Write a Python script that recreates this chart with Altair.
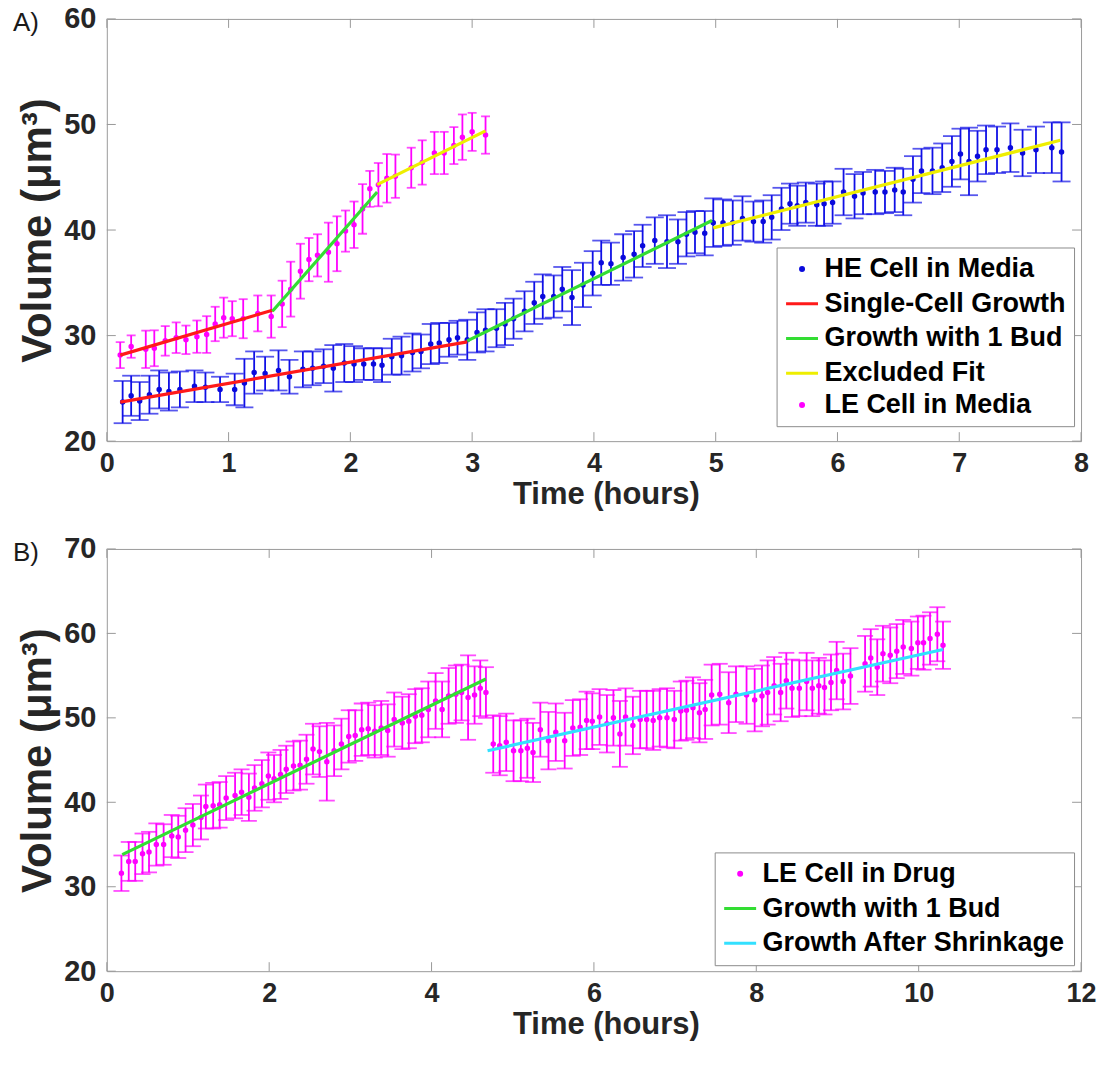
import altair as alt
import pandas as pd

FONT = "Liberation Sans"
AXIS_GRAY = "#9a9a9a"
TXT = "#262626"
W, H = 976, 423

# ---------------- Panel A ----------------
he_t = [0.13, 0.20, 0.27, 0.35, 0.43, 0.51, 0.60, 0.72, 0.81, 0.93,
        1.05, 1.13, 1.21, 1.30, 1.41, 1.50, 1.61, 1.69, 1.78, 1.86,
        1.95, 2.03, 2.11, 2.19, 2.26, 2.34, 2.42, 2.51, 2.58, 2.66,
        2.73, 2.81, 2.88, 2.96, 3.04, 3.11, 3.20, 3.27, 3.34, 3.43,
        3.51, 3.58, 3.67, 3.74, 3.82, 3.91, 3.99, 4.06, 4.14, 4.24,
        4.33, 4.40, 4.50, 4.60, 4.69, 4.76, 4.83, 4.91, 4.98, 5.06,
        5.14, 5.22, 5.31, 5.39, 5.46, 5.54, 5.61, 5.67, 5.74, 5.83,
        5.89, 5.96, 6.05, 6.14, 6.21, 6.31, 6.39, 6.47, 6.54, 6.62,
        6.69, 6.78, 6.86, 6.94, 7.01, 7.08, 7.15, 7.22, 7.31, 7.42,
        7.52, 7.63, 7.76, 7.84]
he_v = [23.7, 24.3, 23.8, 24.4, 24.9, 24.7, 24.9, 25.2, 25.1, 24.9,
        24.9, 25.5, 26.5, 26.4, 26.7, 26.1, 26.8, 26.9, 27.1, 26.9,
        27.4, 27.3, 27.3, 27.3, 27.2, 28.0, 28.1, 28.4, 28.5, 29.2,
        29.3, 29.6, 29.8, 29.6, 30.3, 30.5, 30.7, 31.1, 31.6, 32.3,
        33.1, 33.7, 33.7, 34.4, 33.6, 34.8, 35.9, 36.9, 36.8, 37.4,
        37.7, 38.5, 39.0, 38.9, 38.9, 39.6, 39.8, 39.7, 40.7, 40.7,
        40.7, 41.1, 40.8, 40.8, 41.2, 42.0, 42.5, 42.3, 42.6, 42.4,
        42.5, 42.6, 43.6, 43.2, 43.5, 43.6, 43.6, 43.8, 43.6, 44.8,
        45.6, 45.6, 45.9, 46.5, 47.2, 46.5, 47.0, 47.6, 47.6, 47.8,
        47.3, 47.6, 47.8, 47.4]
he_e = [2.0, 1.9, 1.8, 1.8, 1.8, 1.8, 1.7, 1.5, 1.4, 1.2,
        1.5, 2.3, 2.0, 1.6, 1.9, 1.6, 1.7, 1.6, 1.6, 2.2,
        1.8, 1.7, 1.5, 1.5, 1.6, 1.7, 1.8, 1.8, 1.6, 1.9,
        1.9, 1.6, 1.6, 1.9, 1.9, 2.0, 1.8, 2.0, 1.9, 1.9,
        2.0, 2.1, 2.0, 2.1, 2.6, 2.1, 2.1, 2.1, 2.0, 2.2,
        2.2, 2.0, 2.2, 2.5, 2.1, 2.1, 2.0, 2.1, 2.3, 2.2,
        2.1, 2.1, 1.9, 2.0, 2.1, 2.0, 1.9, 1.9, 1.9, 2.0,
        2.1, 2.0, 2.2, 2.1, 2.0, 2.1, 2.0, 2.1, 2.2, 2.2,
        2.1, 2.2, 2.3, 2.4, 2.4, 3.2, 2.4, 2.3, 2.2, 2.3,
        2.2, 2.2, 2.4, 2.8]

lem_t = [0.11, 0.20, 0.32, 0.39, 0.48, 0.57, 0.65, 0.74, 0.82, 0.89,
         0.96, 1.03, 1.12, 1.24, 1.35, 1.44, 1.51, 1.59, 1.66, 1.73,
         1.82, 1.89, 1.96, 2.03, 2.10, 2.16, 2.23, 2.30, 2.37, 2.50,
         2.59, 2.69, 2.77, 2.85, 2.92, 3.00, 3.11]
lem_v = [28.15, 28.96, 28.7, 28.8, 29.5, 29.8, 29.6, 29.9, 30.1, 31.1,
         31.7, 31.6, 31.6, 32.1, 31.8, 33.0, 34.4, 36.1, 37.2, 37.6,
         37.9, 38.7, 39.9, 40.5, 42.0, 43.9, 44.3, 44.9, 45.1, 45.9,
         46.4, 47.3, 47.3, 48.0, 48.8, 49.3, 49.0]
lem_e = [1.23, 1.06, 1.77, 1.7, 1.4, 1.45, 1.35, 1.53, 1.74, 1.63,
         1.9, 1.66, 1.85, 1.7, 2.0, 2.2, 2.6, 2.6, 2.05, 2.0,
         2.8, 2.6, 1.95, 2.2, 2.35, 1.7, 2.05, 2.3, 2.05, 1.9,
         2.1, 2.0, 2.0, 1.75, 2.15, 1.8, 1.77]

fitA_seg = ["he1", "he1", "he2", "he2", "he3", "he3", "le1", "le1", "le2", "le2", "le3", "le3"]
fitA_series = ["Single-Cell Growth", "Single-Cell Growth", "Growth with 1 Bud", "Growth with 1 Bud",
               "Excluded Fit", "Excluded Fit", "Single-Cell Growth", "Single-Cell Growth",
               "Growth with 1 Bud", "Growth with 1 Bud", "Excluded Fit", "Excluded Fit"]
fitA_t = [0.11, 2.96, 2.96, 4.97, 4.98, 7.83, 0.11, 1.36, 1.36, 2.22, 2.22, 3.11]
fitA_v = [23.7, 29.4, 29.5, 40.9, 40.2, 48.5, 28.15, 32.4, 32.3, 43.6, 44.3, 49.4]

legendA = ["HE Cell in Media", "Single-Cell Growth", "Growth with 1 Bud", "Excluded Fit", "LE Cell in Media"]
colorsA = ["#0a0adc", "#ff1a1a", "#33dd33", "#eeee00", "#ff00ff"]
shapesA = ["circle", "stroke", "stroke", "stroke", "circle"]
sizesA = [9, 1024, 1024, 1024, 9]
xticksA = [0, 1, 2, 3, 4, 5, 6, 7, 8]
yticksA = [20, 30, 40, 50, 60]

# ---------------- Panel B ----------------
dr_t = [0.18, 0.27, 0.35, 0.44, 0.52, 0.61, 0.70, 0.80, 0.88, 0.97,
        1.06, 1.16, 1.22, 1.31, 1.39, 1.47, 1.58, 1.66, 1.75, 1.82,
        1.91, 1.99, 2.06, 2.14, 2.21, 2.30, 2.38, 2.46, 2.54, 2.62,
        2.71, 2.80, 2.89, 2.98, 3.06, 3.14, 3.22, 3.30, 3.38, 3.46,
        3.54, 3.64, 3.72, 3.80, 3.88, 3.96, 4.05, 4.13, 4.21, 4.30,
        4.37, 4.45, 4.53, 4.60, 4.67, 4.76, 4.84, 4.92, 5.01, 5.10,
        5.18, 5.25, 5.34, 5.44, 5.53, 5.64, 5.74, 5.83, 5.91, 5.98,
        6.07, 6.16, 6.24, 6.32, 6.39, 6.48, 6.57, 6.65, 6.73, 6.81,
        6.90, 6.99, 7.07, 7.14, 7.22, 7.30, 7.37, 7.45, 7.55, 7.66,
        7.75, 7.88, 7.98, 8.07, 8.14, 8.22, 8.30, 8.37, 8.44, 8.53,
        8.62, 8.69, 8.77, 8.84, 8.92, 8.99, 9.07, 9.16, 9.34, 9.41,
        9.49, 9.56, 9.65, 9.73, 9.81, 9.91, 9.99, 10.06, 10.14, 10.23,
        10.30]
dr_v = [31.6, 33.0, 33.0, 33.9, 34.1, 35.0, 35.0, 36.0, 35.9, 36.7,
        37.3, 38.2, 39.5, 39.6, 39.7, 40.5, 40.8, 41.2, 40.6, 41.7,
        42.2, 43.1, 42.8, 43.3, 43.9, 44.3, 44.4, 45.1, 46.3, 46.0,
        44.8, 46.1, 46.9, 47.8, 47.9, 48.6, 48.7, 48.4, 48.8, 48.5,
        49.8, 49.4, 49.6, 50.2, 50.3, 51.0, 52.0, 51.0, 52.6, 52.8,
        53.0, 52.4, 52.7, 53.5, 53.0, 46.9, 46.7, 47.1, 46.1, 46.1,
        46.4, 45.9, 48.6, 47.3, 48.3, 47.3, 48.8, 48.9, 49.7, 49.6,
        50.1, 49.3, 50.0, 48.1, 50.1, 49.1, 49.8, 49.8, 49.7, 50.0,
        50.0, 49.8, 50.8, 50.9, 51.2, 50.6, 51.0, 52.7, 52.8, 51.8,
        52.8, 52.7, 52.1, 52.6, 53.0, 53.8, 53.0, 54.4, 53.5, 53.5,
        54.3, 53.5, 53.8, 53.6, 54.2, 55.6, 54.3, 54.95, 56.4, 57.1,
        56.0, 57.6, 57.4, 57.9, 58.4, 58.2, 58.9, 58.9, 59.4, 59.9,
        58.6]
dr_e = [2.1, 2.3, 2.3, 2.4, 2.4, 2.5, 2.4, 2.5, 2.5, 2.6,
        2.5, 2.6, 2.6, 2.7, 2.7, 2.6, 2.7, 2.7, 2.8, 2.7,
        2.8, 2.8, 2.8, 2.9, 2.8, 2.9, 2.9, 2.9, 3.0, 3.0,
        4.6, 3.0, 3.0, 3.1, 3.0, 3.1, 3.1, 3.1, 3.2, 3.1,
        3.2, 3.1, 3.2, 3.2, 3.2, 3.3, 3.3, 3.3, 3.3, 3.4,
        3.3, 5.0, 3.4, 3.3, 3.0, 3.4, 3.5, 3.4, 3.6, 3.6,
        3.5, 3.5, 3.2, 3.4, 3.4, 3.3, 3.3, 3.3, 3.4, 3.3,
        3.3, 3.4, 3.3, 3.9, 3.4, 3.4, 3.4, 3.4, 3.5, 3.4,
        3.5, 3.4, 3.5, 3.5, 3.6, 3.5, 3.5, 3.6, 3.6, 3.6,
        3.3, 3.4, 3.7, 3.6, 3.8, 3.4, 3.4, 3.3, 3.4, 3.3,
        3.4, 3.3, 3.3, 3.2, 3.3, 3.4, 3.3, 3.3, 3.3, 3.4,
        3.3, 3.3, 3.3, 3.2, 3.2, 3.2, 3.1, 3.2, 3.1, 3.2,
        2.8]

fitB_seg = ["b1", "b1", "b2", "b2"]
fitB_series = ["Growth with 1 Bud", "Growth with 1 Bud", "Growth After Shrinkage", "Growth After Shrinkage"]
fitB_t = [0.19, 4.67, 4.69, 10.30]
fitB_v = [33.8, 54.6, 46.1, 58.1]

legendB = ["LE Cell in Drug", "Growth with 1 Bud", "Growth After Shrinkage"]
colorsB = ["#ff00ff", "#33dd33", "#33e0ff"]
shapesB = ["circle", "stroke", "stroke"]
sizesB = [9, 1024, 1024]
xticksB = [0, 2, 4, 6, 8, 10, 12]
yticksB = [20, 30, 40, 50, 60, 70]


def build_panel(series_list, fit_df, xdom, xticks, ydom, yticks, dom, colors, shapes, sizes,
                label, legx, legy):
    xs = alt.Scale(domain=xdom, nice=False, zero=False)
    ys = alt.Scale(domain=ydom, nice=False, zero=False)
    xax = alt.Axis(values=xticks, title="Time (hours)", format="d", titleX=W / 2 + 12)
    yax = alt.Axis(values=yticks, title="Volume (μm³)", format="d")

    def X(f):
        return alt.X(f"{f}:Q", scale=xs, axis=xax)

    def Y(f):
        return alt.Y(f"{f}:Q", scale=ys, axis=yax)

    layers = []
    frames = []
    for name, t, v, e, color, cap in series_list:
        df = pd.DataFrame({"t": t, "v": v, "e": e})
        df["lo"] = df["v"] - df["e"]
        df["hi"] = df["v"] + df["e"]
        df["series"] = name
        frames.append(df)
        base = alt.Chart(df)
        layers.append(base.mark_rule(color=color, strokeWidth=1.8).encode(
            x=X("t"), y=Y("lo"), y2=alt.Y2("hi")))
        layers.append(base.mark_tick(color=color, orient="horizontal", size=cap, thickness=1.8).encode(
            x=X("t"), y=Y("lo")))
        layers.append(base.mark_tick(color=color, orient="horizontal", size=cap, thickness=1.8).encode(
            x=X("t"), y=Y("hi")))

    pts = pd.concat(frames, ignore_index=True)
    leg = alt.Legend(title=None, orient="none", legendX=legx, legendY=legy,
                     labelFont=FONT, labelFontSize=27, labelFontWeight="bold", labelColor="#000000",
                     strokeColor="#8c8c8c", fillColor="white", padding=8, rowPadding=3.8,
                     labelOffset=5, symbolStrokeWidth=3, labelLimit=500)
    cs = alt.Scale(domain=dom, range=colors)
    layers.append(alt.Chart(pts).mark_point(filled=True, strokeWidth=2.5, opacity=1).encode(
        x=X("t"), y=Y("v"),
        fill=alt.Fill("series:N", scale=cs, legend=leg),
        stroke=alt.Stroke("series:N", scale=cs, legend=leg),
        shape=alt.Shape("series:N", scale=alt.Scale(domain=dom, range=shapes), legend=leg),
        size=alt.Size("series:N", scale=alt.Scale(type="ordinal", domain=dom, range=sizes), legend=leg),
    ))

    layers.append(alt.Chart(fit_df).mark_line(strokeWidth=3.2).encode(
        x=X("t"), y=Y("v"),
        stroke=alt.Stroke("series:N", scale=cs, legend=None),
        detail="seg:N"))

    xt = pd.DataFrame({"t": xticks})
    yt = pd.DataFrame({"v": yticks})
    tk = dict(color=AXIS_GRAY, strokeWidth=1)
    layers += [
        alt.Chart(xt).mark_rule(**tk).encode(x=X("t"), y=alt.value(H), y2=alt.value(H - 9)),
        alt.Chart(xt).mark_rule(**tk).encode(x=X("t"), y=alt.value(0), y2=alt.value(9)),
        alt.Chart(yt).mark_rule(**tk).encode(y=Y("v"), x=alt.value(0), x2=alt.value(9)),
        alt.Chart(yt).mark_rule(**tk).encode(y=Y("v"), x=alt.value(W), x2=alt.value(W - 9)),
    ]
    layers.append(alt.Chart(pd.DataFrame({"lab": [label]})).mark_text(
        font=FONT, fontSize=26, align="left", baseline="middle", color="#1a1a1a").encode(
        x=alt.value(-94), y=alt.value(4), text="lab:N"))
    return alt.layer(*layers).properties(width=W, height=H)


fitA = pd.DataFrame({"t": fitA_t, "v": fitA_v, "series": fitA_series, "seg": fitA_seg})
fitB = pd.DataFrame({"t": fitB_t, "v": fitB_v, "series": fitB_series, "seg": fitB_seg})

panelA = build_panel(
    [("HE Cell in Media", he_t, he_v, he_e, "#1010e6", 18),
     ("LE Cell in Media", lem_t, lem_v, lem_e, "#ff00ff", 9)],
    fitA, [0, 8], xticksA, [20, 60], yticksA, legendA, colorsA, shapesA, sizesA, "A)", 671, 229)

panelB = build_panel(
    [("LE Cell in Drug", dr_t, dr_v, dr_e, "#ff00ff", 16)],
    fitB, [0, 12], xticksB, [20, 70], yticksB, legendB, colorsB, shapesB, sizesB, "B)", 609, 304)

chart = alt.vconcat(panelA, panelB, spacing=24).resolve_scale(
    x="independent", y="independent", fill="independent", stroke="independent",
    shape="independent", size="independent"
).resolve_legend(
    fill="independent", stroke="independent", shape="independent", size="independent"
).properties(
    padding={"left": 12, "top": 3, "right": 2, "bottom": 4}
).configure_view(
    stroke=AXIS_GRAY, strokeWidth=1
).configure_axis(
    grid=False, ticks=False, domain=False, labelFlush=False, labelOverlap=False,
    labelFont=FONT, labelFontWeight="bold", labelColor=TXT,
    titleFont=FONT, titleFontWeight="bold", titleColor=TXT
).configure_axisX(
    labelPadding=9, titlePadding=3, titleFontSize=31, labelFontSize=27
).configure_axisY(
    labelPadding=11, titlePadding=4, titleFontSize=42, labelFontSize=29
)

chart.save("out.html", embed_options={"renderer": "svg", "actions": False})
